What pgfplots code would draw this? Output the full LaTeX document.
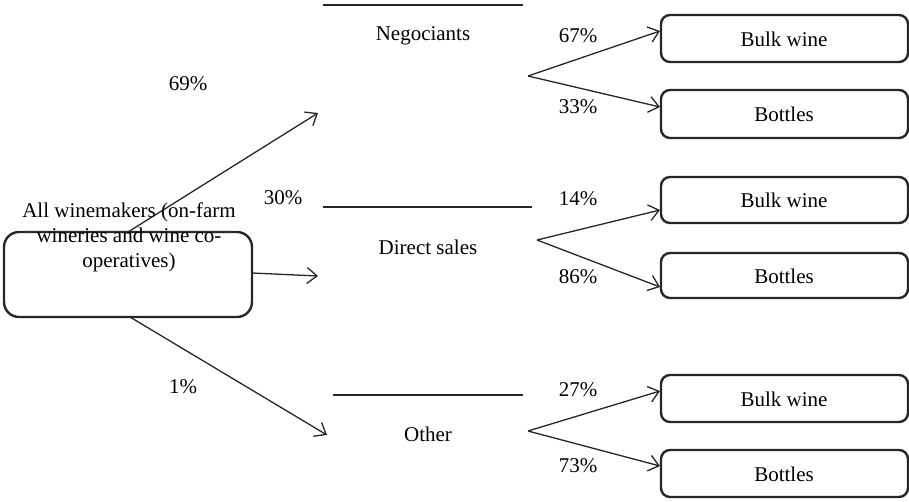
\documentclass[border=0pt]{standalone}
\usepackage{pgfplots}
\pgfplotsset{compat=1.18}
\usepackage{fontspec}
\setmainfont{Liberation Serif}
\usetikzlibrary{arrows.meta}
\definecolor{ink}{HTML}{262626}
\definecolor{txt}{HTML}{2b2b2b}
\begin{document}
\fontsize{21}{25}\selectfont
\begin{tikzpicture}
\begin{axis}[
  scale only axis, width=909pt, height=501pt,
  xmin=0, xmax=909, ymin=0, ymax=501, y dir=reverse,
  hide axis, clip=false,
  every node/.style={text=txt, font=\fontsize{21}{25}\selectfont},
  arr/.style={ink, line width=1.3pt, -{Straight Barb[length=10pt,width=16pt,line width=1.3pt]}},
  ln/.style={ink, line width=1.2pt},
  bx/.style={ink, line width=2.4pt, rounded corners=9pt},
]
% main box
\addplot[ink, line width=2.4pt, rounded corners=15pt] coordinates {(128,232) (252,232) (252,317) (4,317) (4,232) (128,232)};
% flows from main box
\addplot[arr] coordinates {(128,232) (318,113)};
\addplot[arr] coordinates {(252,273) (318,276)};
\addplot[arr] coordinates {(130,317) (327,435)};
% category lines
\addplot[ln] coordinates {(323,5) (523,5)};
\addplot[ln] coordinates {(323,207) (532,207)};
\addplot[ln] coordinates {(333,395) (523,395)};
% forks
\addplot[arr] coordinates {(528,76) (660,31)};
\addplot[arr] coordinates {(528,76) (660,107)};
\addplot[arr] coordinates {(537,240) (660,210)};
\addplot[arr] coordinates {(537,240) (660,287)};
\addplot[arr] coordinates {(528,431) (660,391)};
\addplot[arr] coordinates {(528,431) (660,466)};
% right boxes
\addplot[bx] coordinates {(784,15) (908,15) (908,62) (661,62) (661,15) (784,15)};
\addplot[bx] coordinates {(784,90) (908,90) (908,138) (661,138) (661,90) (784,90)};
\addplot[bx] coordinates {(784,177) (908,177) (908,223) (661,223) (661,177) (784,177)};
\addplot[bx] coordinates {(784,253) (908,253) (908,298) (661,298) (661,253) (784,253)};
\addplot[bx] coordinates {(784,375) (908,375) (908,422) (661,422) (661,375) (784,375)};
\addplot[bx] coordinates {(784,450) (908,450) (908,497) (661,497) (661,450) (784,450)};
% texts
\node[align=center] at (axis cs:129,237) {All winemakers (on-farm\\wineries and wine co-\\operatives)};
\node at (axis cs:188,84) {69\%};
\node at (axis cs:283,198) {30\%};
\node at (axis cs:183,387) {1\%};
\node at (axis cs:423,36) {Negociants};
\node at (axis cs:428,247) {Direct sales};
\node at (axis cs:428,434) {Other};
\node at (axis cs:578,36) {67\%};
\node at (axis cs:578,107) {33\%};
\node at (axis cs:578,199) {14\%};
\node at (axis cs:578,277) {86\%};
\node at (axis cs:578,390) {27\%};
\node at (axis cs:578,466) {73\%};
\node at (axis cs:784,39) {Bulk wine};
\node at (axis cs:784,114) {Bottles};
\node at (axis cs:784,200) {Bulk wine};
\node at (axis cs:784,276) {Bottles};
\node at (axis cs:784,399) {Bulk wine};
\node at (axis cs:784,474) {Bottles};
\end{axis}
\pgfresetboundingbox
\path[use as bounding box] (current axis.south west) rectangle (current axis.north east);
\end{tikzpicture}
\end{document}
